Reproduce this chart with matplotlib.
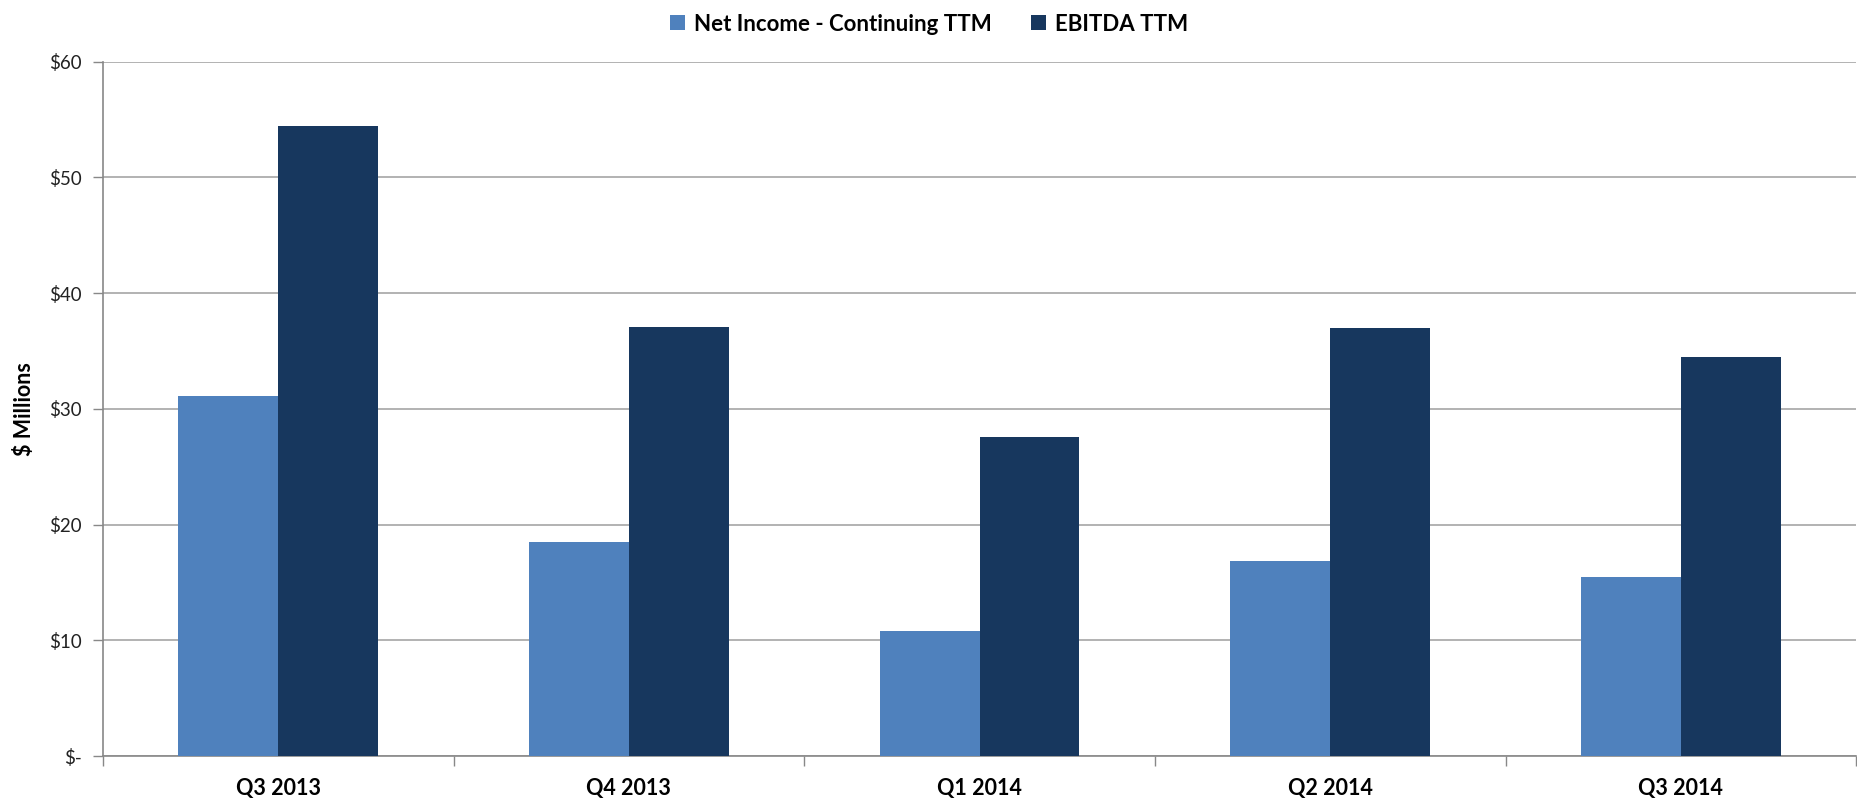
import matplotlib
matplotlib.use("Agg")
import matplotlib.pyplot as plt
import numpy as np

categories = ["Q3 2013", "Q4 2013", "Q1 2014", "Q2 2014", "Q3 2014"]
net_income = [31.1, 18.5, 10.8, 16.9, 15.5]
ebitda = [54.4, 37.1, 27.6, 37.0, 34.5]
series_names = ["Net Income - Continuing TTM", "EBITDA TTM"]
y_ticks = [0, 10, 20, 30, 40, 50, 60]
y_tick_labels = ["$-", "$10", "$20", "$30", "$40", "$50", "$60"]

plt.rcParams['font.family'] = ['Lato', 'DejaVu Sans']

fig = plt.figure(figsize=(18.58, 8.01), dpi=100)
ax = fig.add_axes([0.0554, 0.056, 0.9436, 0.867])

x = np.arange(len(categories))
w = 0.285
c1 = "#4F81BD"
c2 = "#17375E"
ax.bar(x - w/2, net_income, width=w, color=c1, label=series_names[0], zorder=3)
ax.bar(x + w/2, ebitda, width=w, color=c2, label=series_names[1], zorder=3)

ax.set_xlim(-0.5, len(categories) - 0.5)
ax.set_ylim(0, 60)
ax.set_yticks(y_ticks)
ax.set_yticklabels(y_tick_labels, fontsize=13.5, color="#222222")
ax.yaxis.grid(True, color="#A6A6A6", linewidth=1.2, zorder=0)
ax.set_axisbelow(True)

ax.set_xticks(x)
ax.set_xticklabels(categories, fontsize=15.5, fontweight="bold")
ax.set_xticks(np.arange(len(categories) + 1) - 0.5, minor=True)
ax.tick_params(axis="x", which="major", length=0, pad=16)
ax.tick_params(axis="x", which="minor", length=7, color="#888888", width=1)
ax.tick_params(axis="y", length=7, color="#888888", width=1, pad=8)

for s in ["top", "right"]:
    ax.spines[s].set_visible(False)
for s in ["left", "bottom"]:
    ax.spines[s].set_color("#888888")
    ax.spines[s].set_linewidth(1.2)

ax.set_ylabel("$ Millions", fontsize=15.5, fontweight="bold")
ax.yaxis.set_label_coords(-0.0385, 0.5)

leg = fig.legend(loc="upper center", bbox_to_anchor=(0.5, 1.008), ncol=2,
                 frameon=False, prop={"size": 16, "weight": "bold"},
                 handlelength=0.65, handleheight=0.65, handletextpad=0.4,
                 columnspacing=1.8)

fig.savefig("out.png", dpi=100)
